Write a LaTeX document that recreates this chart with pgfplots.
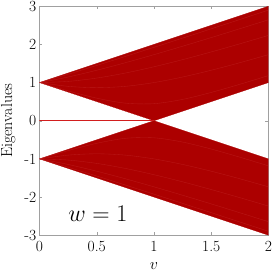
\documentclass[border=0pt]{standalone}
\usepackage{fix-cm}
\usepackage{pgfplots}
\pgfplotsset{compat=1.18}
\usepackage{pgfplotstable}
\definecolor{band}{RGB}{172,0,0}
\definecolor{bandline}{RGB}{198,48,48}
\definecolor{zeroline}{RGB}{210,30,30}
\definecolor{axgray}{RGB}{160,160,160}
\pgfplotstableread{
v     c1     c2     c3     c4     c5
0     1      1      1      1      1
0.25  1.2196 1.1456 1.0308 0.9014 0.7826
0.5   1.4491 1.3229 1.1180 0.8660 0.5916
0.75  1.6845 1.5207 1.2500 0.9014 0.4610
1     1.9235 1.7321 1.4142 1.0000 0.4472
1.25  2.1651 1.9526 1.6008 1.1456 0.5590
1.5   2.4083 2.1794 1.8028 1.3229 0.7416
1.75  2.6528 2.4109 2.0156 1.5207 0.9552
2     2.8983 2.6458 2.2361 1.7321 1.1832
}\curves
\begin{document}
\begin{tikzpicture}
\begin{axis}[
  scale only axis, width=228bp, height=228bp,
  xmin=0, xmax=2, ymin=-3, ymax=3,
  xtick={0,0.5,1,1.5,2}, xticklabels={\mbox{0},\mbox{0.5},\mbox{1},\mbox{1.5},\mbox{2}},
  ytick={-3,-2,-1,0,1,2,3}, yticklabels={\mbox{-3},\mbox{-2},\mbox{-1},\mbox{0},\mbox{1},\mbox{2},\mbox{3}},
  tick align=inside, major tick length=3bp,
  axis line style={axgray}, tick style={axgray, line width=0.4pt},
  ticklabel style={font=\fontsize{15.5}{18}\selectfont},
  label style={font=\fontsize{16}{19}\selectfont},
  xlabel={$v$}, ylabel={Eigenvalues},
  xticklabel style={inner sep=1bp, yshift=-5bp},
  yticklabel style={inner sep=1bp, xshift=-2bp},
  ylabel style={at={(axis description cs:-0.1,0.5)}, anchor=south, inner sep=1bp},
  xlabel style={at={(axis description cs:0.5,0)}, anchor=south, inner sep=2.5bp, yshift=-37bp},
]
\addplot[fill=band, draw=band, line width=0.3pt] coordinates {(0,1) (1,2) (2,3) (2,1) (1,0) (0,1)} -- cycle;
\addplot[fill=band, draw=band, line width=0.3pt] coordinates {(0,-1) (1,-2) (2,-3) (2,-1) (1,0) (0,-1)} -- cycle;
\foreach \c in {c1,c2,c3,c4,c5} {
  \addplot[bandline, line width=0.35pt, opacity=0.5, smooth] table[x=v, y=\c] {\curves};
  \addplot[bandline, line width=0.35pt, opacity=0.5, smooth] table[x=v, y expr=-\thisrow{\c}] {\curves};
}
\addplot[draw=zeroline, line width=0.9pt] coordinates {(0,0) (1,0)};
\node at (axis cs:0.51,-2.45) {\fontsize{24}{28}\selectfont $w=1$};
\end{axis}
\end{tikzpicture}
\end{document}
